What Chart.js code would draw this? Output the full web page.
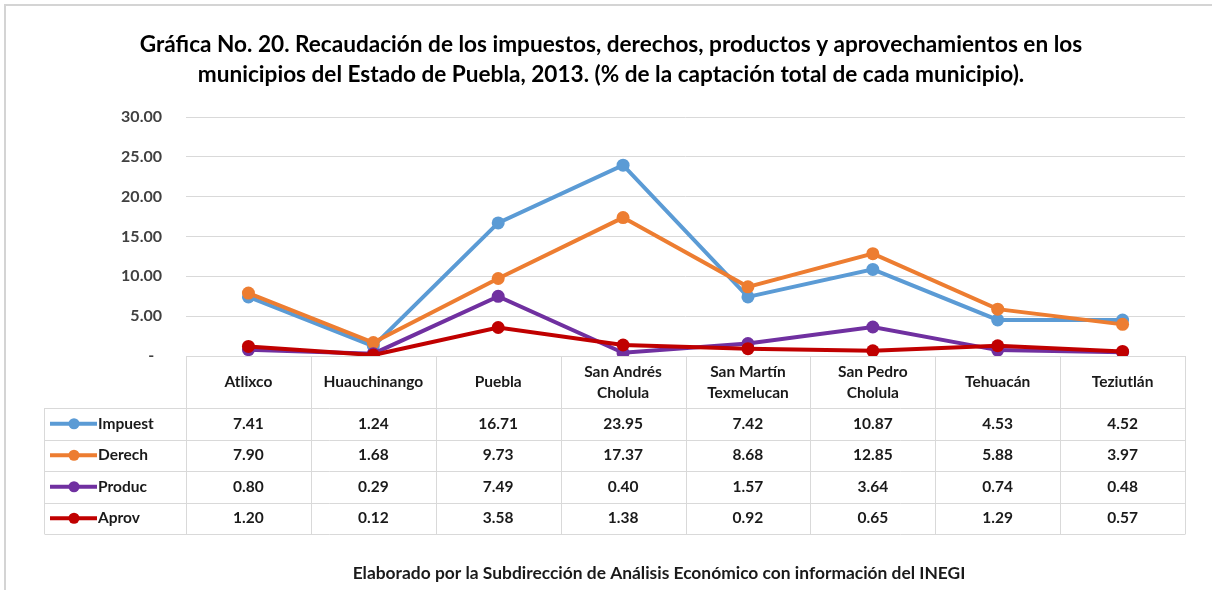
<!DOCTYPE html>
<html lang="es">
<head>
<meta charset="UTF-8">
<title>Gráfica No. 20</title>
<script src="https://cdn.jsdelivr.net/npm/chart.js@4"></script>
<style>
  html, body { margin: 0; padding: 0; background: #fff; }
  #wrap { width: 1212px; height: 590px; position: relative; }
</style>
</head>
<body>
<div id="wrap"><canvas id="chart"></canvas></div>
<script>
  // datos de la gráfica (% de la captación total de cada municipio)
  const municipios = ['Atlixco', 'Huauchinango', 'Puebla', ['San Andrés', 'Cholula'], ['San Martín', 'Texmelucan'], ['San Pedro', 'Cholula'], 'Tehuacán', 'Teziutlán'];
  const series = ['Impuest', 'Derech', 'Produc', 'Aprov'];
  const impuestos = [7.41, 1.24, 16.71, 23.95, 7.42, 10.87, 4.53, 4.52];
  const derechos = [7.90, 1.68, 9.73, 17.37, 8.68, 12.85, 5.88, 3.97];
  const productos = [0.80, 0.29, 7.49, 0.40, 1.57, 3.64, 0.74, 0.48];
  const aprovechamientos = [1.20, 0.12, 3.58, 1.38, 0.92, 0.65, 1.29, 0.57];
  const yTicks = [0, 5, 10, 15, 20, 25, 30];

  const colors = ['#5b9bd5', '#ed7d31', '#7030a0', '#c00000'];
  const values = [impuestos, derechos, productos, aprovechamientos];
  const FONT = 'Lato';
  const gridColor = '#d9d9d9';

  // marco de la imagen original
  const framePlugin = {
    id: 'frame',
    beforeDraw(chart) {
      const ctx = chart.ctx;
      ctx.save();
      ctx.fillStyle = '#fff';
      ctx.fillRect(0, 0, chart.width, chart.height);
      ctx.fillStyle = '#d4d4d4';
      ctx.fillRect(4, 4, chart.width - 4, 2);
      ctx.fillRect(4, 4, 2, chart.height - 4);
      ctx.restore();
    }
  };

  // tabla de datos debajo del área de trazado
  const tablePlugin = {
    id: 'dataTable',
    afterDraw(chart) {
      const { ctx, chartArea, scales: { x } } = chart;
      const half = (x.getPixelForValue(1) - x.getPixelForValue(0)) / 2;
      const top = chartArea.bottom;
      const headH = 52, rowH = 31.5, legendLeft = 44;
      const rowsTop = top + headH;
      const bottom = rowsTop + rowH * series.length;
      const px = v => Math.round(v) + 0.5;

      ctx.save();
      ctx.strokeStyle = gridColor;
      ctx.lineWidth = 1;
      ctx.beginPath();
      // verticales
      for (let i = 0; i <= municipios.length; i++) {
        const xx = px(x.getPixelForValue(i) - half);
        ctx.moveTo(xx, top);
        ctx.lineTo(xx, bottom);
      }
      ctx.moveTo(px(legendLeft), rowsTop);
      ctx.lineTo(px(legendLeft), bottom);
      // horizontales
      ctx.moveTo(px(x.getPixelForValue(0) - half), px(top));
      ctx.lineTo(px(chartArea.right), px(top));
      for (let r = 0; r <= series.length; r++) {
        const yy = px(rowsTop + r * rowH);
        ctx.moveTo(px(legendLeft), yy);
        ctx.lineTo(px(chartArea.right), yy);
      }
      ctx.stroke();

      ctx.fillStyle = '#1a1a1a';
      ctx.font = `bold 15.5px ${FONT}`;
      ctx.textAlign = 'center';
      ctx.textBaseline = 'middle';
      // encabezados
      municipios.forEach((m, i) => {
        const cx = x.getPixelForValue(i);
        const lines = Array.isArray(m) ? m : [m];
        const lh = 21;
        const y0 = top + headH / 2 - (lines.length - 1) * lh / 2;
        lines.forEach((t, k) => ctx.fillText(t, cx, y0 + k * lh));
      });
      // filas
      series.forEach((name, r) => {
        const cy = rowsTop + r * rowH + rowH / 2;
        ctx.strokeStyle = colors[r];
        ctx.lineWidth = 4;
        ctx.beginPath();
        ctx.moveTo(50, cy);
        ctx.lineTo(97, cy);
        ctx.stroke();
        ctx.fillStyle = colors[r];
        ctx.beginPath();
        ctx.arc(74, cy, 5.5, 0, Math.PI * 2);
        ctx.fill();
        ctx.fillStyle = '#1a1a1a';
        ctx.textAlign = 'left';
        ctx.fillText(name, 98, cy);
        ctx.textAlign = 'center';
        values[r].forEach((v, i) => ctx.fillText(v.toFixed(2), x.getPixelForValue(i), cy));
      });

      // nota al pie
      ctx.font = `bold 17.4px ${FONT}`;
      ctx.fillStyle = '#1a1a1a';
      ctx.fillText('Elaborado por la Subdirección de Análisis Económico con información del INEGI', 659, 573);
      ctx.restore();
    }
  };

  const ctx = document.getElementById('chart').getContext('2d');
  new Chart(ctx, {
    type: 'line',
    data: {
      labels: municipios,
      datasets: series.map((name, i) => ({
        label: name,
        data: values[i],
        borderColor: colors[i],
        backgroundColor: colors[i],
        borderWidth: 4,
        pointRadius: 6.5,
        pointBorderWidth: 0,
        tension: 0,
        order: series.length - i
      }))
    },
    options: {
      responsive: true,
      maintainAspectRatio: false,
      animation: false,
      events: [],
      layout: { padding: { top: 0, left: 37, right: 27, bottom: 234 } },
      plugins: {
        legend: { display: false },
        tooltip: { enabled: false },
        title: {
          display: true,
          text: ['Gráfica No. 20. Recaudación de los impuestos, derechos, productos y aprovechamientos en los',
                 'municipios del Estado de Puebla, 2013. (% de la captación total de cada municipio).'],
          color: '#000',
          font: { family: FONT, weight: 'bold', size: 22.6, lineHeight: 30 / 22.6 },
          padding: { top: 30, bottom: 27 }
        }
      },
      scales: {
        x: {
          offset: true,
          grid: { display: false },
          border: { display: false },
          ticks: { display: false },
          afterFit: s => { s.height = 0; }
        },
        y: {
          min: yTicks[0],
          max: yTicks[yTicks.length - 1],
          ticks: {
            stepSize: yTicks[1] - yTicks[0],
            padding: 24,
            color: '#404040',
            font: { family: FONT, weight: 'bold', size: 16 },
            callback: v => v === 0 ? '-  ' : v.toFixed(2)
          },
          grid: { color: gridColor, drawTicks: false },
          border: { display: false },
          afterFit: s => { s.width = 149; }
        }
      }
    },
    plugins: [framePlugin, tablePlugin]
  });
</script>
</body>
</html>
